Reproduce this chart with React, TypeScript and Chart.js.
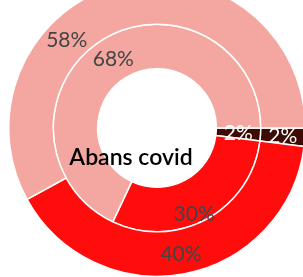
import React, { useEffect, useRef } from "react";
import { Chart, registerables } from "chart.js";

Chart.register(...registerables);

const categories = ["Altres", "Sí", "No"];
const outerValues = [2, 40, 58]; // outer ring
const innerValues = [2, 30, 68]; // inner ring
const colors = ["#3D0A04", "#FF0D0D", "#F4A7A1"];
const labelColors = ["#FFFFFF", "#444444", "#444444"];
const centerTitle = "Abans covid";
// label placement along the arc (fraction of arc) and radial shift, per ring
const outerLabelFrac = [0.5, 0.5, 0.35];
const innerLabelFrac = [0.5, 0.55, 0.5];
const innerLabelShift = [0, 12, 0];
const outerLabelShift = [0, 2, 0];

const labelPlugin = {
  id: "pctLabels",
  afterDatasetsDraw(chart: any) {
    const ctx = chart.ctx;
    ctx.save();
    ctx.textAlign = "center";
    ctx.textBaseline = "middle";
    ctx.font = "21px Lato";
    chart.data.datasets.forEach((ds: any, di: number) => {
      const meta = chart.getDatasetMeta(di);
      const fracs = di === 0 ? outerLabelFrac : innerLabelFrac;
      const shifts = di === 0 ? outerLabelShift : innerLabelShift;
      meta.data.forEach((arc: any, i: number) => {
        const p = arc.getProps(["x", "y", "startAngle", "endAngle", "innerRadius", "outerRadius"], true);
        const a = p.startAngle + fracs[i] * (p.endAngle - p.startAngle);
        const r = (p.innerRadius + p.outerRadius) / 2 + shifts[i];
        ctx.fillStyle = labelColors[i];
        ctx.fillText(ds.data[i] + "%", p.x + Math.cos(a) * r, p.y + Math.sin(a) * r);
      });
    });
    const m = chart.getDatasetMeta(1).data[0];
    if (m) {
      ctx.fillStyle = "#000000";
      ctx.font = "600 23px Lato";
      ctx.fillText(centerTitle, m.x - 26, m.y + 30);
    }
    ctx.restore();
  },
};

export default function App() {
  const ref = useRef<HTMLCanvasElement | null>(null);
  useEffect(() => {
    if (!ref.current) return;
    const chart = new Chart(ref.current, {
      type: "doughnut",
      data: {
        labels: categories,
        datasets: [
          { data: outerValues, backgroundColor: colors, borderColor: "#ffffff", borderWidth: 1.5 },
          { data: innerValues, backgroundColor: colors, borderColor: "#ffffff", borderWidth: 1.5 },
        ],
      },
      options: {
        animation: false,
        responsive: false,
        rotation: 90,
        cutout: "40%",
        layout: { padding: 0 },
        plugins: { legend: { display: false }, tooltip: { enabled: false } },
      },
      plugins: [labelPlugin],
    });
    return () => chart.destroy();
  }, []);
  return (
    <div style={{ position: "fixed", left: 0, top: 0, width: 303, height: 277, overflow: "hidden", background: "#fff" }}>
      <canvas ref={ref} width={298} height={298} style={{ position: "absolute", left: 8, top: -21, width: 298, height: 298 }} />
    </div>
  );
}
